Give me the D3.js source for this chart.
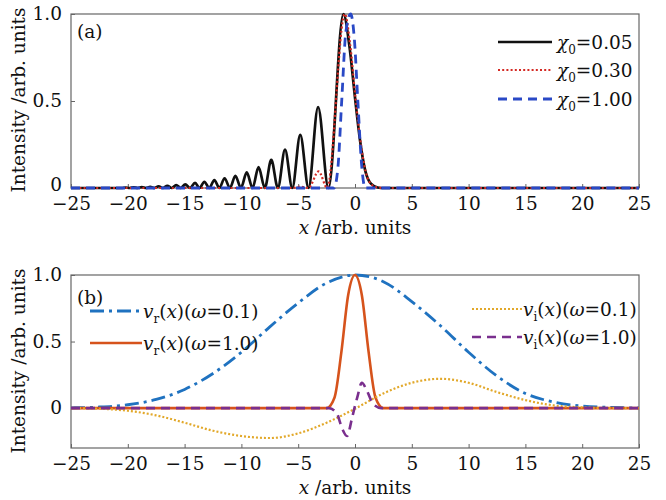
<!DOCTYPE html>
<html><head><meta charset="utf-8">
<script src="https://cdn.jsdelivr.net/npm/d3@7"></script>
<style>
body{margin:0;background:#fff;}
svg text{font-family:"DejaVu Serif",serif;fill:#111;}
</style></head>
<body><svg id="c" width="666" height="500"></svg>
<script>
// ---------- data ----------
const xTicks = [-25,-20,-15,-10,-5,0,5,10,15,20,25];
const yTicksA = [0,0.5,1.0];
const yTickLabelsA = ["0","0.5","1.0"];
const yTicksB = [0,0.5,1.0];
const yTickLabelsB = ["0","0.5","1.0"];

const legendA = ["0.05","0.30","1.00"];
// chi0 = 0.05
const chi005 = [[-25,0],[-21.2,0],[-20.54,0],[-20.19,0.003],[-19.84,0],[-19.48,0.004],[-19.13,0],[-18.76,0.005],[-18.40,0],[-18.03,0.007],[-17.66,0],[-17.29,0.01],[-16.91,0],[-16.52,0.013],[-16.13,0],[-15.74,0.017],[-15.34,0],[-14.94,0.021],[-14.53,0],[-14.08,0.029],[-13.69,0],[-13.26,0.036],[-12.83,0],[-12.38,0.045],[-11.94,0],[-11.48,0.056],[-11.01,0],[-10.53,0.07],[-10.04,0],[-9.53,0.09],[-9.02,0],[-8.49,0.12],[-7.94,0],[-7.37,0.162],[-6.79,0],[-6.16,0.22],[-5.52,0],[-4.82,0.305],[-4.09,0],[-3.25,0.465],[-2.34,0],[-1.02,1.0],[-0.5,0.82],[0,0.52],[0.45,0.27],[0.9,0.1],[1.4,0.025],[2.0,0.003],[2.5,0],[25,0]];
// chi0 = 0.30
const chi030 = [[-25,0],[-5.5,0],[-4.8,0.008],[-4.1,0],[-3.2,0.095],[-2.45,0],[-0.9,1.0],[-0.42,0.82],[0.05,0.51],[0.5,0.26],[0.95,0.09],[1.45,0.02],[2.0,0.003],[2.5,0],[25,0]];
// chi0 = 1.00
const chi100 = [[-25,0],[-1.85,0],[-1.5,0.12],[-1.17,0.5],[-0.8,0.9],[-0.38,1.0],[-0.05,0.85],[0.25,0.5],[0.6,0.12],[0.9,0],[25,0]];

// panel (b)
const vr01 = [[-25,0.002],[-22.5,0.008],[-20,0.025],[-17.5,0.065],[-15,0.14],[-12.5,0.26],[-10,0.42],[-7.5,0.61],[-5,0.79],[-2.5,0.94],[0,1.0],[2.5,0.95],[5,0.8],[7.5,0.62],[10,0.42],[12.5,0.24],[15,0.11],[17.5,0.045],[20,0.015],[22.5,0.005],[25,0.001]];
const vr10 = [[-25,0],[-2.5,0],[-1.8,0.08],[-1.2,0.42],[-0.6,0.85],[0,1.0],[0.6,0.85],[1.2,0.42],[1.8,0.08],[2.5,0],[25,0]];
const vi01 = [[-25,0],[-22.5,-0.005],[-20,-0.02],[-17.5,-0.055],[-15,-0.11],[-12.5,-0.17],[-10,-0.21],[-7.5,-0.225],[-5,-0.19],[-2.5,-0.11],[0,-0.005],[2.5,0.11],[5,0.19],[7.5,0.22],[10,0.19],[12.5,0.12],[15,0.06],[17.5,0.02],[20,0.005],[22.5,0],[25,0]];
const vi10 = [[-25,0],[-2.3,0],[-1.6,-0.04],[-1.15,-0.15],[-0.7,-0.21],[-0.3,-0.09],[-0.05,0],[0.2,0.08],[0.6,0.19],[1.05,0.13],[1.6,0.03],[2.3,0],[25,0]];
const legendB1 = [["r","0.1"],["r","1.0"]];
const legendB2 = [["i","0.1"],["i","1.0"]];

// ---------- drawing ----------
const FONT = '"DejaVu Serif",serif';
const svg = d3.select("#c").attr("font-family",FONT);
const L = 71, R = 639;
const x = d3.scaleLinear().domain([-25,25]).range([L,R]);
const yA = d3.scaleLinear().domain([0,1]).range([188,14]);
const yB = d3.scaleLinear().domain([-0.3,1]).range([448,275]);
const FS = 18.5, TFS = 18.5, SUB = 12;
const frameCol = "#666";

function panel(y, yTicks, yLabels, yMid, zeroDy){
  const top = y.range()[1], bot = y.range()[0];
  const g = svg.append("g");
  const ax = g.append("g").attr("transform",`translate(0,${bot})`)
    .call(d3.axisBottom(x).tickValues(xTicks).tickSizeInner(-4).tickSizeOuter(0).tickPadding(9).tickFormat(d3.format("d")));
  ax.attr("font-family",FONT);
  ax.select(".domain").remove();
  ax.selectAll("line").attr("stroke",frameCol);
  ax.selectAll("text").attr("font-size",TFS).attr("fill","#111");
  const ay = g.append("g").attr("transform",`translate(${L},0)`)
    .call(d3.axisLeft(y).tickValues(yTicks).tickSizeInner(-4).tickSizeOuter(0).tickPadding(9).tickFormat((d,i)=>yLabels[i]));
  ay.attr("font-family",FONT);
  ay.select(".domain").remove();
  ay.selectAll("line").attr("stroke",frameCol);
  ay.selectAll("text").attr("font-size",TFS).attr("fill","#111")
    .attr("dy",(d)=> d===0 ? zeroDy : "0.32em");
  g.append("rect").attr("x",L).attr("y",top).attr("width",R-L).attr("height",bot-top)
    .attr("fill","none").attr("stroke",frameCol).attr("stroke-width",1.2);
  // y label
  g.append("text").attr("transform",`translate(25,${yMid}) rotate(-90)`).attr("text-anchor","middle")
    .attr("font-size",FS).text("Intensity /arb. units");
  // x label
  const xl = g.append("text").attr("x",x(0)).attr("y",bot+46).attr("text-anchor","middle").attr("font-size",FS);
  xl.append("tspan").attr("font-style","italic").text("x");
  xl.append("tspan").text(" /arb. units");
  return g;
}

const gA = panel(yA, yTicksA, yTickLabelsA, 100, "0.15em");
const gB = panel(yB, yTicksB, yTickLabelsB, 361, "0.32em");

function draw(g, y, data, col, w, dash){
  const line = d3.line().x(d=>x(d[0])).y(d=>y(d[1])).curve(d3.curveMonotoneX);
  g.append("path").attr("d",line(data)).attr("fill","none").attr("stroke",col)
    .attr("stroke-width",w).attr("stroke-dasharray",dash||null).attr("stroke-linejoin","round");
}

const stA = [
  {col:"#111", w:2.7, dash:null},
  {col:"#d42a24", w:2.2, dash:"2,2.2"},
  {col:"#2a49c6", w:2.8, dash:"9,6"}
];
draw(gA, yA, chi005, stA[0].col, stA[0].w, stA[0].dash);
draw(gA, yA, chi030, stA[1].col, stA[1].w, stA[1].dash);
draw(gA, yA, chi100, stA[2].col, stA[2].w, stA[2].dash);

const stB = {
  vr01:{col:"#1f72c0", w:2.8, dash:"14,5,3,5"},
  vr10:{col:"#d6531c", w:2.6, dash:null},
  vi01:{col:"#e2a82a", w:2.2, dash:"2,2"},
  vi10:{col:"#7a2f8e", w:2.6, dash:"9,6"}
};
draw(gB, yB, vr01, stB.vr01.col, stB.vr01.w, stB.vr01.dash);
draw(gB, yB, vr10, stB.vr10.col, stB.vr10.w, stB.vr10.dash);
draw(gB, yB, vi01, stB.vi01.col, stB.vi01.w, stB.vi01.dash);
draw(gB, yB, vi10, stB.vi10.col, stB.vi10.w, stB.vi10.dash);

// panel labels
gA.append("text").attr("x",77).attr("y",38).attr("font-size",FS).text("(a)");
gB.append("text").attr("x",77).attr("y",304).attr("font-size",FS).text("(b)");

// legend A
const rowsA = [42,70,99];
legendA.forEach((v,i)=>{
  const yy = rowsA[i];
  gA.append("line").attr("x1",498).attr("x2",552).attr("y1",yy).attr("y2",yy)
    .attr("stroke",stA[i].col).attr("stroke-width",stA[i].w).attr("stroke-dasharray",stA[i].dash);
  const t = gA.append("text").attr("x",557).attr("y",yy+7).attr("font-size",FS);
  t.append("tspan").attr("font-style","italic").text("χ");
  t.append("tspan").attr("dy",5).attr("font-size",SUB).text("0");
  t.append("tspan").attr("dy",-5).text("="+v);
});

function legB(g, x1, x2, yy, st, sub, val){
  g.append("line").attr("x1",x1).attr("x2",x2).attr("y1",yy).attr("y2",yy)
    .attr("stroke",st.col).attr("stroke-width",st.w).attr("stroke-dasharray",st.dash);
  const t = g.append("text").attr("x",x2+1).attr("y",yy+7).attr("font-size",FS);
  t.append("tspan").attr("font-style","italic").text("v");
  t.append("tspan").attr("dy",5).attr("font-size",SUB).text(sub);
  t.append("tspan").attr("dy",-5).text("(");
  t.append("tspan").attr("font-style","italic").text("x");
  t.append("tspan").text(")(");
  t.append("tspan").attr("font-style","italic").text("ω");
  t.append("tspan").text("="+val+")");
}
legB(gB, 90, 142, 311, stB.vr01, legendB1[0][0], legendB1[0][1]);
legB(gB, 90, 142, 343, stB.vr10, legendB1[1][0], legendB1[1][1]);
legB(gB, 472, 522, 309, stB.vi01, legendB2[0][0], legendB2[0][1]);
legB(gB, 472, 522, 337, stB.vi10, legendB2[1][0], legendB2[1][1]);
</script></body></html>
